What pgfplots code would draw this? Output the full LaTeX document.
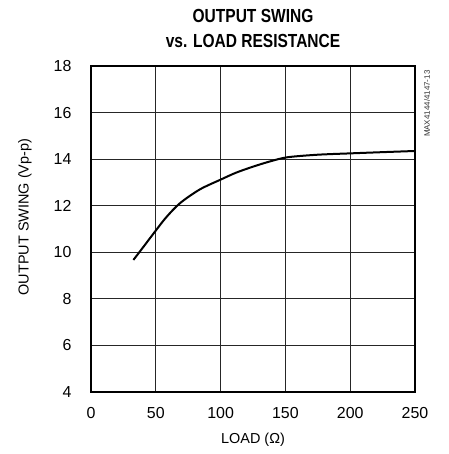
\documentclass[border=0pt]{standalone}
\usepackage{pgfplots}
\pgfplotsset{compat=1.18}
\usepackage{fontspec}
\setmainfont{Liberation Sans}
\newfontfamily\narrowfont[FakeStretch=0.82]{Liberation Sans}
\begin{document}
\begin{tikzpicture}[x=1bp,y=1bp]
\begin{axis}[
  at={(0,0)}, anchor=origin,
  scale only axis,
  width=324bp, height=326bp,
  xmin=0, xmax=250, ymin=4, ymax=18,
  xtick={0,50,...,250}, ytick={4,6,...,18},
  grid=major,
  major grid style={line width=0.8bp, black!85},
  axis line style={line width=2bp},
  major tick length=0pt,
  /pgf/number format/assume math mode=true,
  tick label style={font=\fontsize{16}{18}\selectfont},
  xticklabel style={yshift=-12bp},
  yticklabel style={xshift=-16bp},
  xlabel={LOAD (Ω)},
  ylabel={OUTPUT SWING (Vp-p)},
  every axis x label/.style={at={([yshift=-48bp]rel axis cs:0.5,0)}, anchor=center, font=\fontsize{14.5}{16}\selectfont},
  every axis y label/.style={at={([xshift=-66bp,yshift=12bp]rel axis cs:0,0.5)}, anchor=center, rotate=90, font=\fontsize{14.5}{16}\selectfont},
  title={\textbf{OUTPUT SWING}\\\textbf{vs. LOAD RESISTANCE}},
  title style={align=center, font=\narrowfont\fontsize{19}{25}\selectfont, yshift=9bp},
  clip=false,
]
\addplot[line width=2bp, black, smooth, tension=0.5] coordinates {
  (32.7,9.67) (40,10.2) (49.4,10.89) (58,11.5) (68.7,12.11) (84,12.7) (100.8,13.14) (112,13.42) (125.2,13.68) (138,13.9) (151.5,14.08) (175,14.19) (201.2,14.25) (225,14.3) (250,14.35)
};
\node[rotate=90, anchor=east, font=\fontsize{8}{9}\selectfont, black!80] at ([xshift=12bp,yshift=-1bp]rel axis cs:1,1) {MAX4144/4147-13};
\end{axis}
\path (-91,-62) rectangle (358,392);
\end{tikzpicture}
\end{document}
